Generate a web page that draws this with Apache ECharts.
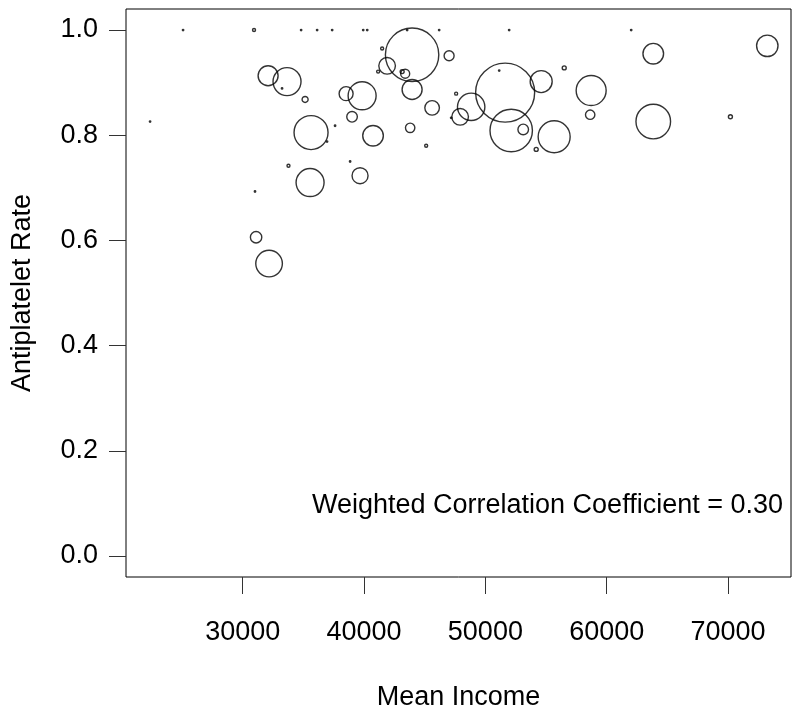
<!DOCTYPE html>
<html>
<head>
<meta charset="utf-8">
<script src="https://cdn.jsdelivr.net/npm/echarts@6/dist/echarts.min.js"></script>
<style>
  html, body { margin: 0; padding: 0; background: #fff; }
  #chart { width: 800px; height: 714px; }
</style>
</head>
<body>
<div id="chart"></div>
<script>
// mean income per area
const income = [
  25080, 30930, 34810, 36130, 37370, 39930, 40260, 43550, 46190, 51960,
  62020, 32090, 33650, 33240, 35140, 22360, 35630, 37610, 36950, 33770,
  35550, 38850, 39670, 31010, 31100, 32170, 43960, 41490, 47010, 41900,
  41160, 43390, 43140, 43960, 51630, 51140, 54600, 47590, 45610, 48830,
  47920, 47180, 52130, 53120, 39010, 40740, 43800, 45120, 54190, 38520,
  39840, 63840, 73240, 56500, 58720, 58640, 63840, 70200, 55670
];
// antiplatelet rate
const rate = [
  1.00, 1.00, 1.00, 1.00, 1.00, 1.00, 1.00, 1.00, 1.00, 1.00,
  1.00, 0.913, 0.902, 0.889, 0.868, 0.826, 0.805, 0.818, 0.788, 0.742,
  0.710, 0.750, 0.723, 0.693, 0.606, 0.556, 0.953, 0.965, 0.951, 0.932,
  0.921, 0.917, 0.921, 0.887, 0.881, 0.923, 0.902, 0.879, 0.852, 0.854,
  0.835, 0.833, 0.809, 0.811, 0.835, 0.799, 0.814, 0.780, 0.773, 0.879,
  0.875, 0.955, 0.970, 0.928, 0.885, 0.839, 0.826, 0.835, 0.797
];
// weights (circle area)
const weight = [
  2, 9, 2, 2, 2, 2, 2, 2, 2, 2,
  2, 400, 784, 2, 36, 2, 1156, 2, 2, 9,
  784, 2, 256, 2, 130, 708, 2851, 9, 100, 276,
  9, 81, 16, 400, 3481, 2, 484, 9, 213, 751,
  276, 2, 1800, 112, 112, 424, 88, 9, 16, 196,
  784, 424, 458, 16, 900, 88, 1197, 16, 1024
];
const xTicks = [30000, 40000, 50000, 60000, 70000];
const yTicks = [0, 0.2, 0.4, 0.6, 0.8, 1.0];
const corrText = 'Weighted Correlation Coefficient = 0.30';

const points = income.map((x, i) => [x, rate[i], weight[i]]);

const font = 'Liberation Sans, Arial, sans-serif';
const chart = echarts.init(document.getElementById('chart'));

const option = {
  animation: false,
  backgroundColor: '#fff',
  grid: {
    left: 126, right: 9, top: 9, bottom: 137,
    outerBoundsMode: 'none',
    containLabel: false,
    show: true, borderColor: '#000', borderWidth: 1
  },
  xAxis: {
    type: 'value',
    min: 20376, max: 75194,
    name: 'Mean Income',
    nameLocation: 'middle',
    nameGap: 107,
    nameTextStyle: { fontFamily: font, fontSize: 27, color: '#000' },
    axisLine: { show: false, onZero: false },
    splitLine: { show: false },
    axisTick: { show: true, length: 17, customValues: xTicks, lineStyle: { color: '#333' } },
    axisLabel: {
      customValues: xTicks, margin: 42, fontFamily: font, fontSize: 27, color: '#000',
      formatter: v => String(v)
    }
  },
  yAxis: {
    type: 'value',
    min: -0.04, max: 1.04,
    name: 'Antiplatelet Rate',
    nameLocation: 'middle',
    nameGap: 90,
    nameTextStyle: { fontFamily: font, fontSize: 27, color: '#000' },
    axisLine: { show: false, onZero: false },
    splitLine: { show: false },
    axisTick: { show: true, length: 17, customValues: yTicks, lineStyle: { color: '#333' } },
    axisLabel: {
      customValues: yTicks, margin: 28, fontFamily: font, fontSize: 27, color: '#000',
      formatter: v => v.toFixed(1)
    }
  },
  graphic: [{
    type: 'text',
    right: 17,
    top: 492,
    style: { text: corrText, font: '27px ' + font, fill: '#000' }
  }],
  series: [{
    type: 'scatter',
    data: points,
    symbol: 'circle',
    symbolSize: d => Math.sqrt(d[2]),
    itemStyle: { color: 'transparent', borderColor: '#000', borderWidth: 1.4 },
    emphasis: { disabled: true },
    silent: true
  }]
};

chart.setOption(option);
</script>
</body>
</html>
